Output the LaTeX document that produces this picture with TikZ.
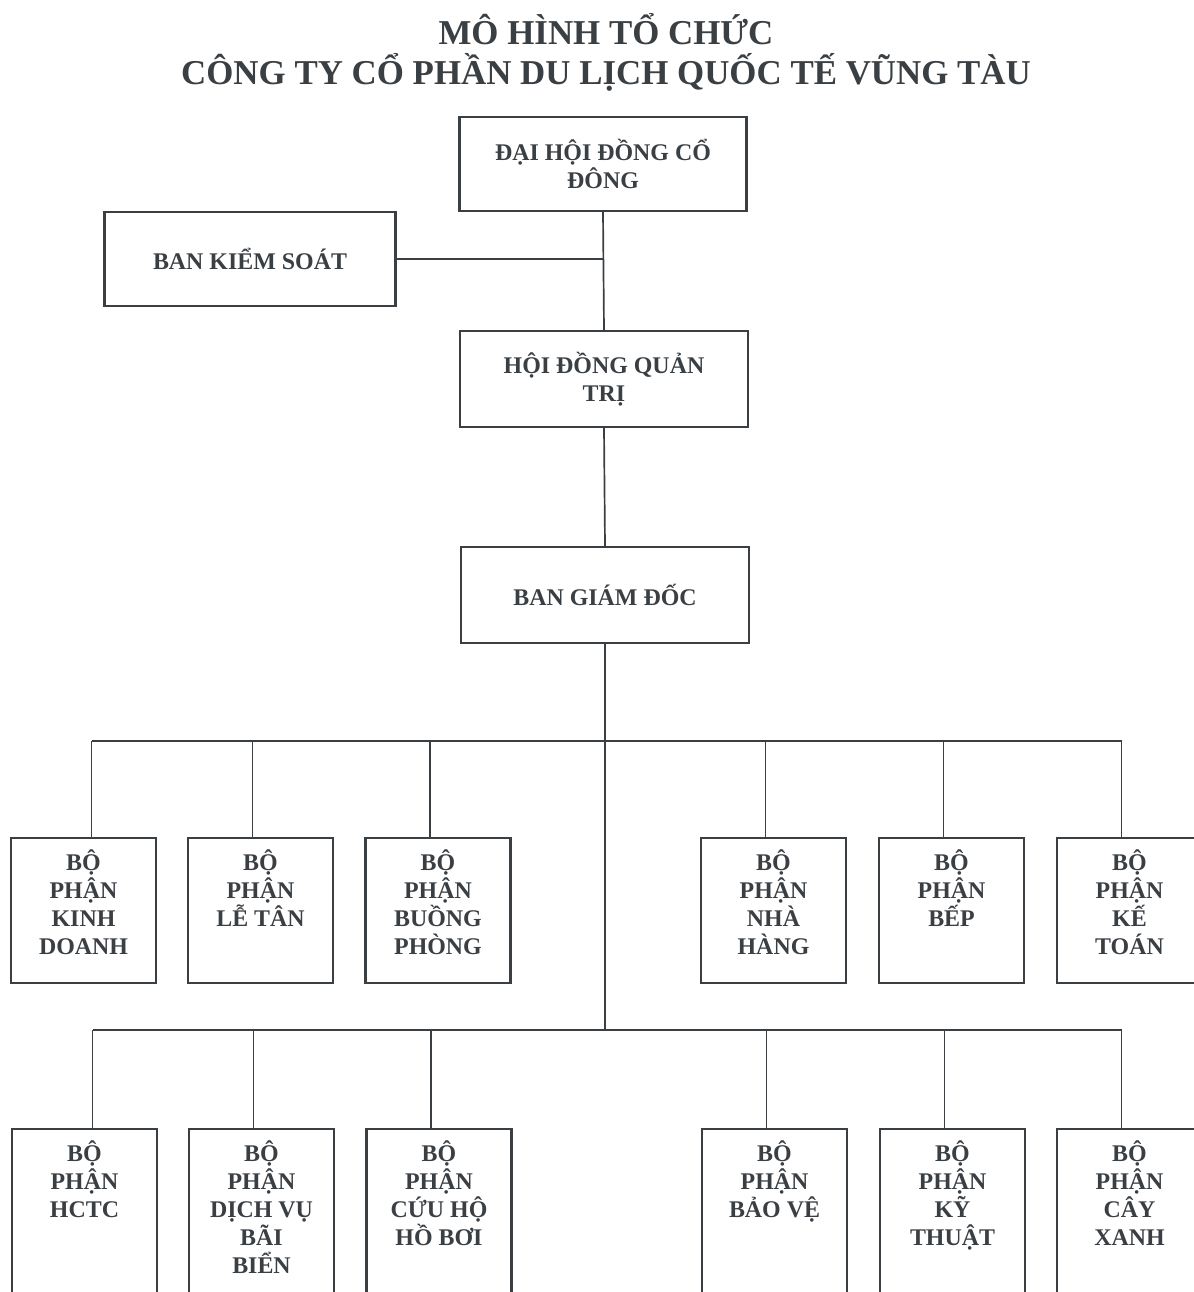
\documentclass[tikz,border=0pt]{standalone}
\usepackage{fontspec}
\setmainfont{Liberation Serif}
\usetikzlibrary{calc}
\definecolor{ink}{HTML}{3A3F44}
\tikzset{
	box/.style={draw=ink, line width=0.8pt, text=ink, font=\fontsize{8.5}{9.9}\selectfont\bfseries, align=center, inner sep=0pt},
	dept/.style={box, anchor=north},
	link/.style={draw=ink, line width=0.6pt},
	heading/.style={text=ink, font=\fontsize{12.4}{14.2}\selectfont\bfseries, align=center},
}
\newcommand{\depttext}[2][1.8125cm]{\parbox[c][#1][t]{1.8125cm}{\centering\lineskiplimit=-10pt\rule{0pt}{0.41cm}#2}}

\begin{document}
\begin{tikzpicture}[x=0.0125cm,y=-0.0125cm]
	\useasboundingbox (0,0) rectangle (1194,1292);
	
	%title
	\node[heading] (tieude) at (606,52) {MÔ HÌNH TỔ CHỨC\\CÔNG TY CỔ PHẦN DU LỊCH QUỐC TẾ VŨNG TÀU};
	
	%top boxes
	\node[box, minimum width=3.5875cm, minimum height=1.175cm] (dhcd) at (603,164) {ĐẠI HỘI ĐỒNG CỔ\\ĐÔNG};
	\node[box, minimum width=3.6375cm, minimum height=1.175cm] (bks) at (250,259) {BAN KIỂM SOÁT};
	\node[box, minimum width=3.6cm, minimum height=1.2cm] (hdqt) at (604,379) {HỘI ĐỒNG QUẢN\\TRỊ};
	\node[box, minimum width=3.6cm, minimum height=1.2cm] (bgd) at (605,595) {BAN GIÁM ĐỐC};
	
	%first row
	\node[dept] (kd)  at (83.5,837)  {\depttext{BỘ\\PHẬN\\KINH\\DOANH}};
	\node[dept] (lt)  at (260.5,837) {\depttext{BỘ\\PHẬN\\LỄ TÂN}};
	\node[dept] (pb)  at (438,837)   {\depttext{BỘ\\PHẬN\\BUỒNG\\PHÒNG}};
	\node[dept] (nh)  at (773.5,837) {\depttext{BỘ\\PHẬN\\NHÀ\\HÀNG}};
	\node[dept] (bep) at (951.5,837) {\depttext{BỘ\\PHẬN\\BẾP}};
	\node[dept] (kt)  at (1129.5,837){\depttext{BỘ\\PHẬN\\KẾ\\TOÁN}};
	
	%second row (cut off at the bottom)
	\node[dept] (hctc) at (84.5,1128)  {\depttext[2.5cm]{BỘ\\PHẬN\\HCTC}};
	\node[dept] (dvbb) at (261.5,1128) {\depttext[2.5cm]{BỘ\\PHẬN\\DỊCH VỤ\\BÃI\\BIỂN}};
	\node[dept] (chhb) at (439,1128)   {\depttext[2.5cm]{BỘ\\PHẬN\\CỨU HỘ\\HỒ BƠI}};
	\node[dept] (bv)   at (774.5,1128) {\depttext[2.5cm]{BỘ\\PHẬN\\BẢO VỆ}};
	\node[dept] (kth)  at (952.5,1128) {\depttext[2.5cm]{BỘ\\PHẬN\\KỸ\\THUẬT}};
	\node[dept] (cx)   at (1129.5,1128){\depttext[2.5cm]{BỘ\\PHẬN\\CÂY\\XANH}};
	
	%lines
	\coordinate (bus1) at (605,741);
	\coordinate (bus2) at (605,1030);
	\draw[link] (dhcd.south) -- (hdqt.north);
	\draw[link] (bks.east) -- (bks.east -| dhcd.south);
	\draw[link] (hdqt.south) -- (bgd.north);
	\draw[link] (bgd.south) -- (bus2);
	%
	\foreach \d/\s in {kd/0.1,lt/-0.1,pb/-0.1,nh/-0.1,bep/-0.1,kt/-0.1}{
		\coordinate (\d-top) at ([xshift=\s cm]\d.north);
		\draw[link] (\d-top) -- (\d-top |- bus1);
	}
	\draw[link] (kd-top |- bus1) -- (kt-top |- bus1);
	%
	\foreach \d/\s in {hctc/0.1,dvbb/-0.1,chhb/-0.1,bv/-0.1,kth/-0.1,cx/-0.1}{
		\coordinate (\d-top) at ([xshift=\s cm]\d.north);
		\draw[link] (\d-top) -- (\d-top |- bus2);
	}
	\draw[link] (hctc-top |- bus2) -- (cx-top |- bus2);
\end{tikzpicture}
\end{document}
